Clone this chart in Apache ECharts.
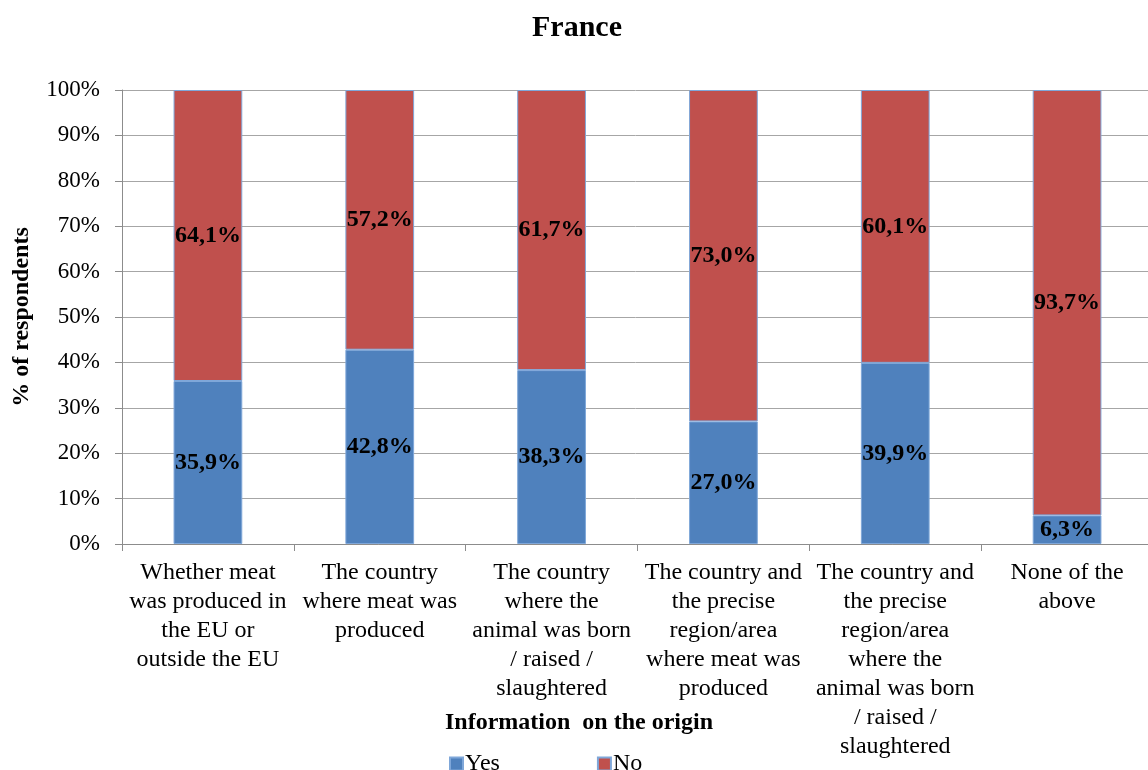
<!DOCTYPE html>
<html>
<head>
<meta charset="utf-8">
<script src="https://cdn.jsdelivr.net/npm/echarts@6/dist/echarts.min.js"></script>
<style>
  html, body { margin: 0; padding: 0; background: #fff; }
  #chart { width: 1148px; height: 770px; }
</style>
</head>
<body>
<div id="chart"></div>
<script>
// data
const categories = [
  'Whether meat\nwas produced in\nthe EU or\noutside the EU',
  'The country\nwhere meat was\nproduced',
  'The country\nwhere the\nanimal was born\n/ raised /\nslaughtered',
  'The country and\nthe precise\nregion/area\nwhere meat was\nproduced',
  'The country and\nthe precise\nregion/area\nwhere the\nanimal was born\n/ raised /\nslaughtered',
  'None of the\nabove'
];
const yesValues = [35.9, 42.8, 38.3, 27.0, 39.9, 6.3];
const noValues = [64.1, 57.2, 61.7, 73.0, 60.1, 93.7];

const SERIF = '"Liberation Serif", "Times New Roman", serif';

const chart = echarts.init(document.getElementById('chart'), null, { renderer: 'canvas' });

const pctLabel = {
  show: true,
  position: 'inside',
  color: '#000',
  fontFamily: SERIF,
  fontWeight: 'bold',
  fontSize: 24,
  formatter: p => p.value.toFixed(1).replace('.', ',') + '%'
};

chart.setOption({
  backgroundColor: '#fff',
  animation: false,
  title: [
    {
      text: 'France', top: 8, left: 572, textAlign: 'center',
      textStyle: { fontFamily: SERIF, fontWeight: 'bold', fontSize: 30, color: '#000' }
    },
    {
      text: 'Information  on the origin', left: 440, top: 706,
      textStyle: { fontFamily: SERIF, fontWeight: 'bold', fontSize: 24, color: '#000' }
    }
  ],
  legend: {
    left: 444, top: 747,
    itemWidth: 13, itemHeight: 13, itemGap: 97,
    icon: 'rect',
    textStyle: { fontFamily: SERIF, fontSize: 24, color: '#000', padding: [0, 0, 0, -3] },
    data: ['Yes', 'No']
  },
  grid: { left: 122, width: 1031, top: 90, bottom: 226, containLabel: false, outerBoundsMode: 'none' },
  xAxis: {
    type: 'category',
    data: categories,
    axisLine: { lineStyle: { color: '#8c8c8c' } },
    axisTick: { show: true, length: 7, alignWithLabel: false, lineStyle: { color: '#8c8c8c' } },
    axisLabel: {
      interval: 0, color: '#000', fontFamily: SERIF, fontSize: 24,
      lineHeight: 29, margin: 14, align: 'center'
    }
  },
  yAxis: {
    type: 'value', min: 0, max: 100, interval: 10,
    name: '% of respondents',
    nameLocation: 'middle', nameGap: 88, nameRotate: 90,
    nameTextStyle: { fontFamily: SERIF, fontWeight: 'bold', fontSize: 24, color: '#000' },
    axisLine: { show: true, lineStyle: { color: '#8c8c8c' } },
    axisTick: { show: true, length: 7, lineStyle: { color: '#8c8c8c' } },
    axisLabel: { color: '#000', fontFamily: SERIF, fontSize: 23, margin: 22, formatter: '{value}%' },
    splitLine: { lineStyle: { color: '#a6a6a6' } }
  },
  series: [
    {
      name: 'Yes', type: 'bar', stack: 'total', barWidth: '40%',
      data: yesValues,
      itemStyle: { color: '#4f81bd', borderColor: '#7fa7d9', borderWidth: 1 },
      label: pctLabel
    },
    {
      name: 'No', type: 'bar', stack: 'total', barWidth: '40%',
      data: noValues,
      itemStyle: { color: '#c0504d', borderColor: '#7fa7d9', borderWidth: 1 },
      label: pctLabel
    }
  ]
});
</script>
</body>
</html>
